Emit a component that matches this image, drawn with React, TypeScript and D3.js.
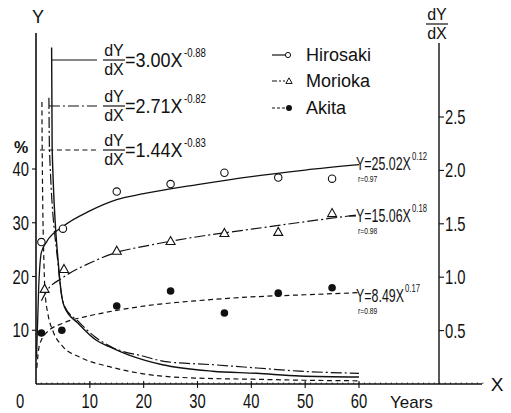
import * as d3 from 'd3';
import React from 'react';

// observed points (age in years, % value)
const hiroAge = [1, 5, 15, 25, 35, 45, 55];
const hiroVal = [26.4, 28.9, 35.8, 37.2, 39.3, 38.4, 38.2];
const moriAge = [1.6, 5.2, 15, 25, 35, 45, 55];
const moriVal = [17.7, 21.4, 24.8, 26.6, 28.1, 28.3, 31.8];
const akitaAge = [1, 4.8, 15, 25, 35, 45, 55];
const akitaVal = [9.5, 10.0, 14.5, 17.3, 13.2, 16.9, 17.9];

// fitted curves (left axis, %)
const hiroFitX = [0.1, 0.5, 1, 2, 5, 10, 15, 20, 30, 40, 50, 60];
const hiroFitY = [5, 18, 24.5, 26.5, 29.3, 32.2, 34.3, 35.4, 37.1, 38.6, 39.8, 40.8];
const moriFitX = [1, 2, 5, 10, 15, 20, 30, 40, 50, 60];
const moriFitY = [15.5, 17.3, 19.8, 22.5, 24.5, 25.6, 27.4, 28.8, 30.2, 31.5];
const akitaFitX = [0.15, 0.5, 1, 2, 5, 10, 15, 20, 30, 40, 50, 60];
const akitaFitY = [3, 6.5, 8.2, 9.6, 11.3, 12.7, 13.7, 14.5, 15.5, 16.2, 16.6, 17.0];

// derivative curves (right axis, dY/dX)
const hiroDerX = [2.9, 3.0, 4.2, 4.7, 5.3, 8, 11.2, 13.6, 17.3, 23.5, 32.8, 41, 49, 60];
const hiroDerY = [3.15, 2.2, 1.1, 0.85, 0.72, 0.56, 0.41, 0.35, 0.27, 0.18, 0.12, 0.1, 0.075, 0.065];
const moriDerX = [2.4, 2.5, 4.1, 4.7, 5.2, 8, 11, 14.3, 20, 24, 33, 41, 49, 60];
const moriDerY = [2.68, 2.2, 1.12, 0.85, 0.74, 0.58, 0.44, 0.34, 0.26, 0.21, 0.18, 0.15, 0.12, 0.1];
const akitaDerX = [1.1, 1.15, 1.5, 1.7, 2.2, 3.2, 5, 8.2, 13.8, 20.6, 30, 40, 50, 60];
const akitaDerY = [2.64, 2.2, 1.09, 0.85, 0.66, 0.49, 0.35, 0.25, 0.16, 0.09, 0.055, 0.045, 0.035, 0.03];

const xTicks = [10, 20, 30, 40, 50, 60];
const yTicks = [10, 20, 30, 40];
const rTicks = [0.5, 1.0, 1.5, 2.0, 2.5];

const sans = '"Liberation Sans", Arial, sans-serif';
const ink = '#111';

const x = d3.scaleLinear().domain([0, 60]).range([36, 359]);
const yL = d3.scaleLinear().domain([0, 40]).range([384, 169]);
const yR = d3.scaleLinear().domain([0, 2.5]).range([384, 117]);

const DASH = '5,3.5';
const DASHDOT = '11,3,2,3';

function pathL(xs: number[], ys: number[]) {
  return d3.line<number>().x((d, i) => x(xs[i])).y((d) => yL(d)).curve(d3.curveMonotoneX)(ys) || '';
}
function pathR(xs: number[], ys: number[]) {
  return d3.line<number>().x((d, i) => x(xs[i])).y((d) => yR(d)).curve(d3.curveMonotoneX)(ys) || '';
}

// condensed text: horizontal squeeze to mimic the narrow lettering
function NText({ x, y, s = 0.74, size, anchor = 'start', children }: any) {
  return (
    <text
      transform={`translate(${x},${y}) scale(${s},1)`}
      textAnchor={anchor}
      fontFamily={sans}
      fontSize={size}
      fill={ink}
    >
      {children}
    </text>
  );
}

function Frac({ cx, y, size }: { cx: number; y: number; size: number }) {
  // y = position of fraction bar
  return (
    <g fontFamily={sans} fontSize={size} fill={ink} textAnchor="middle">
      <text x={cx} y={y - size * 0.23}>dY</text>
      <line x1={cx - 11} x2={cx + 11} y1={y} y2={y} stroke={ink} strokeWidth={1.2} />
      <text x={cx} y={y + size * 0.94}>dX</text>
    </g>
  );
}

function DerivLabel({ y, coef, exp, dash, x0 }: any) {
  return (
    <g>
      <line x1={x0} x2={97} y1={y} y2={y} stroke={ink} strokeWidth={1.2} strokeDasharray={dash} />
      <Frac cx={114} y={y} size={16} />
      <NText x={125} y={y + 7} size={20} s={0.9}>{'=' + coef + 'X'}</NText>
      <NText x={184} y={y - 3} size={12} s={0.8}>{exp}</NText>
    </g>
  );
}

function FitLabel({ y, text, exp, r, expX, lead }: any) {
  return (
    <g>
      {lead && <line x1={349} x2={356} y1={y - 6} y2={y - 6} stroke={ink} strokeWidth={1.2} />}
      <NText x={356} y={y} size={18} s={0.69}>{text}</NText>
      <NText x={expX} y={y - 10} size={11} s={0.7}>{exp}</NText>
      <NText x={358} y={y + 12} size={9} s={0.75}>{r}</NText>
    </g>
  );
}

export default function App() {
  const minor = d3.range(1, 84, 1);
  const tri = (cx: number, cy: number, k = 1) =>
    `M${cx},${cy - 4.5 * k}L${cx + 4.5 * k},${cy + 3.5 * k}L${cx - 4.5 * k},${cy + 3.5 * k}Z`;

  return (
    <div style={{ position: 'absolute', left: 0, top: 0 }}>
      <svg width={511} height={413} style={{ display: 'block', background: '#fff' }}>
        {/* axes */}
        <line x1={36} x2={36} y1={33} y2={384} stroke={ink} strokeWidth={1.6} />
        <line x1={439} x2={439} y1={43} y2={384} stroke={ink} strokeWidth={1.4} />
        <line x1={36} x2={482} y1={384} y2={384} stroke={ink} strokeWidth={1.6} />
        {minor.map((m) => (
          <line key={m} x1={x(m)} x2={x(m)} y1={382.5} y2={384} stroke={ink} strokeWidth={0.8} />
        ))}
        {xTicks.map((t) => (
          <g key={t}>
            <line x1={x(t)} x2={x(t)} y1={381} y2={388} stroke={ink} strokeWidth={1.1} />
            <NText x={x(t)} y={408} size={20} anchor="middle">{t}</NText>
          </g>
        ))}
        <NText x={20} y={408} size={20} anchor="middle">0</NText>
        <text x={390} y={408} fontFamily={sans} fontSize={17} fill={ink}>Years</text>
        <text x={497} y={391} textAnchor="middle" fontFamily={sans} fontSize={19} fill={ink}>X</text>
        {yTicks.map((t) => (
          <g key={t}>
            <line x1={32} x2={36} y1={yL(t)} y2={yL(t)} stroke={ink} strokeWidth={1.1} />
            <NText x={29} y={yL(t) + 7} size={20} anchor="end">{t}</NText>
          </g>
        ))}
        <text x={21} y={153} textAnchor="middle" fontFamily={sans} fontSize={16} fontWeight="bold" fill={ink}>%</text>
        <text x={38} y={23} textAnchor="middle" fontFamily={sans} fontSize={18} fill={ink}>Y</text>
        {rTicks.map((t) => (
          <g key={t}>
            <line x1={439} x2={444} y1={yR(t)} y2={yR(t)} stroke={ink} strokeWidth={1.1} />
            <NText x={445} y={yR(t) + 7} size={20}>{t.toFixed(1)}</NText>
          </g>
        ))}
        <Frac cx={437} y={24} size={16} />

        {/* fitted curves */}
        <path d={pathL(hiroFitX, hiroFitY)} fill="none" stroke={ink} strokeWidth={1.3} />
        <path d={pathL(moriFitX, moriFitY)} fill="none" stroke={ink} strokeWidth={1.2} strokeDasharray={DASHDOT} />
        <path d={pathL(akitaFitX, akitaFitY)} fill="none" stroke={ink} strokeWidth={1.2} strokeDasharray={DASH} />

        {/* derivative curves */}
        <path d={pathR(hiroDerX, hiroDerY)} fill="none" stroke={ink} strokeWidth={1.4} />
        <path d={pathR(moriDerX, moriDerY)} fill="none" stroke={ink} strokeWidth={1.2} strokeDasharray={DASHDOT} />
        <path d={pathR(akitaDerX, akitaDerY)} fill="none" stroke={ink} strokeWidth={1.2} strokeDasharray={DASH} />

        {/* points */}
        {hiroAge.map((a, i) => (
          <circle key={'h' + i} cx={x(a)} cy={yL(hiroVal[i])} r={3.7} fill="#fff" stroke={ink} strokeWidth={1.1} />
        ))}
        {moriAge.map((a, i) => (
          <path key={'m' + i} d={tri(x(a), yL(moriVal[i]))} fill="#fff" stroke={ink} strokeWidth={1.1} />
        ))}
        {akitaAge.map((a, i) => (
          <circle key={'a' + i} cx={x(a)} cy={yL(akitaVal[i])} r={3.8} fill={ink} />
        ))}

        {/* derivative equations */}
        <DerivLabel y={60} coef="3.00" exp="-0.88" x0={x(hiroDerX[0])} />
        <DerivLabel y={106} coef="2.71" exp="-0.82" x0={x(moriDerX[0])} dash={DASHDOT} />
        <DerivLabel y={150} coef="1.44" exp="-0.83" x0={x(akitaDerX[0]) - 2} dash={DASH} />

        {/* fit equations */}
        <FitLabel y={170} text="Y=25.02X" exp="0.12" r="r=0.97" expX={412} />
        <FitLabel y={222} text="Y=15.06X" exp="0.18" r="r=0.98" expX={412} lead />
        <FitLabel y={302} text="Y=8.49X" exp="0.17" r="r=0.89" expX={405} />

        {/* legend */}
        <g fontFamily={sans} fontSize={18} fill={ink}>
          <line x1={272} x2={285} y1={55} y2={55} stroke={ink} strokeWidth={1.2} />
          <circle cx={288} cy={55} r={2.6} fill="#fff" stroke={ink} strokeWidth={1} />
          <text x={306} y={61}>Hirosaki</text>
          <line x1={272} x2={285} y1={81} y2={81} stroke={ink} strokeWidth={1.2} strokeDasharray="5,2,2,2" />
          <path d={tri(289, 81, 0.7)} fill="#fff" stroke={ink} strokeWidth={1} />
          <text x={306} y={87}>Morioka</text>
          <line x1={272} x2={285} y1={108} y2={108} stroke={ink} strokeWidth={1.2} strokeDasharray="3,2" />
          <circle cx={289} cy={108} r={3} fill={ink} />
          <text x={306} y={114}>Akita</text>
        </g>
      </svg>
    </div>
  );
}
